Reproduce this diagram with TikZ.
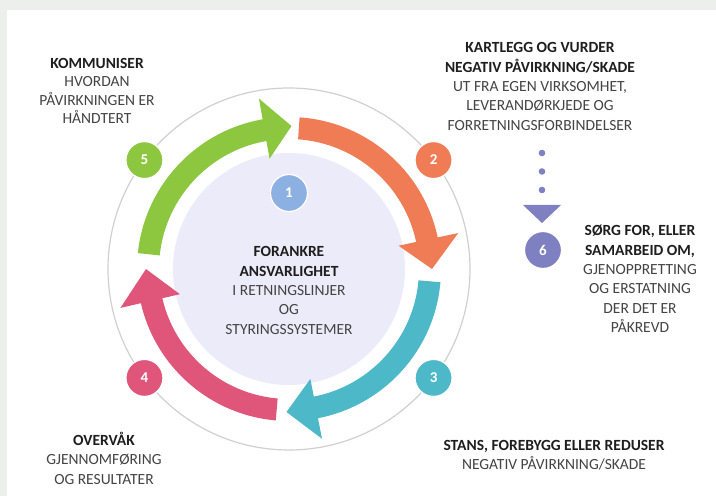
\documentclass[tikz,border=0pt]{standalone}
\usepackage{fontspec}
\setmainfont{Carlito}
\usetikzlibrary{calc}
\definecolor{bggray}{HTML}{EDEFED}
\definecolor{ringgray}{HTML}{D0D0D0}
\definecolor{lav}{HTML}{ECEBF9}
\definecolor{arrorange}{HTML}{F07C56}
\definecolor{arrteal}{HTML}{4DB8C8}
\definecolor{arrpink}{HTML}{E0557A}
\definecolor{arrgreen}{HTML}{8DC63F}
\definecolor{bblue}{HTML}{8DB0E2}
\definecolor{purp}{HTML}{7F80C2}
\definecolor{txtdark}{HTML}{1E1E1E}
\definecolor{txtgray}{HTML}{444444}
\newcommand\cyclearrow[4]{%
  \fill[#1] (#2:152) arc[start angle=#2, end angle=#3, radius=152]
    -- (#3:173) -- (#4:143) -- (#3:112) -- (#3:130)
    arc[start angle=#3, end angle=#2, radius=130] -- cycle;}
\newcommand\bl[1]{\textcolor{txtdark}{\bfseries #1}}
\begin{document}
\begin{tikzpicture}[x=1pt,y=1pt,
  badge/.style={circle, minimum size=37pt, inner sep=0pt, draw=white, line width=1.2pt,
    text=white, font=\fontsize{15}{15}\selectfont\bfseries},
  lbl/.style={align=center, font=\fontsize{15.5}{19.4}\selectfont, text=txtgray, inner sep=0pt}]
\useasboundingbox (0,0) rectangle (716,496);
\fill[bggray] (0,0) rectangle (716,496);
\fill[white] (7,0) rectangle (716,486);
\coordinate (C) at (289,227);
\draw[ringgray, line width=1.2pt] (C) circle[radius=181];
\fill[lav] (C) circle[radius=116];
\begin{scope}[shift={(C)}]
  \cyclearrow{arrorange}{86}{12}{0}
  \cyclearrow{arrteal}{-5}{-79}{-91}
  \cyclearrow{arrpink}{-95}{-167}{-180}
  \cyclearrow{arrgreen}{174}{100}{89}
\end{scope}
\node[badge, fill=bblue] (b1) at (289,303) {1};
\node[badge, fill=arrorange] (b2) at ($(C)+(37:181)$) {2};
\node[badge, fill=arrteal] (b3) at ($(C)+(-37:181)$) {3};
\node[badge, fill=arrpink] (b4) at ($(C)+(-143:181)$) {4};
\node[badge, fill=arrgreen] (b5) at ($(C)+(143:181)$) {5};
\node[badge, fill=purp] (b6) at (543,246) {6};
\foreach \yy in {343,324.5,306} \fill[purp] (542,\yy) circle[radius=3.3];
\fill[purp] (523,291) -- (561,291) -- (542,273) -- cycle;
\node[lbl] (t1) at (289,205.5) {\bl{FORANKRE}\\\bl{ANSVARLIGHET}\\I RETNINGSLINJER\\OG\\STYRINGSSYSTEMER};
\node[lbl] (t2) at (540,409.5) {\bl{KARTLEGG OG VURDER}\\\bl{NEGATIV PÅVIRKNING/SKADE}\\UT FRA EGEN VIRKSOMHET,\\LEVERANDØRKJEDE OG\\FORRETNINGSFORBINDELSER};
\node[lbl] (t3) at (554,41) {\bl{STANS, FOREBYGG ELLER REDUSER}\\NEGATIV PÅVIRKNING/SKADE};
\node[lbl] (t4) at (104,38) {\bl{OVERVÅK}\\GJENNOMFØRING\\OG RESULTATER};
\node[lbl, font=\fontsize{15.5}{18.6}\selectfont] (t5) at (97,405) {\bl{KOMMUNISER}\\HVORDAN\\PÅVIRKNINGEN ER\\HÅNDTERT};
\node[lbl] (t6) at (640,217) {\bl{SØRG FOR, ELLER}\\\bl{SAMARBEID OM,}\\GJENOPPRETTING\\OG ERSTATNING\\DER DET ER\\PÅKREVD};
\end{tikzpicture}
\end{document}
